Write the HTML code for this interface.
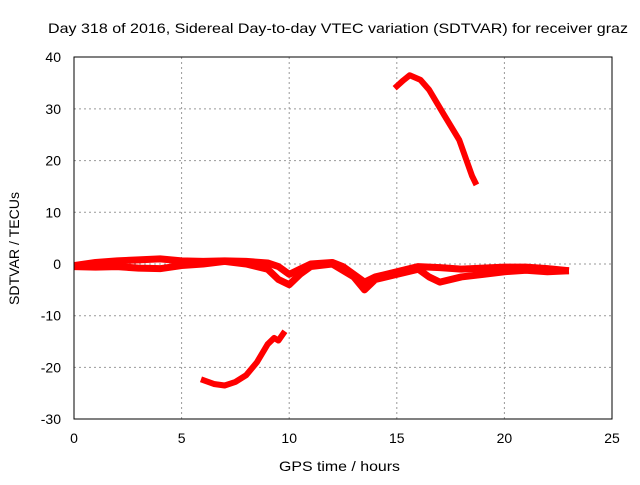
<!DOCTYPE html>
<html><head><meta charset="utf-8"><style>
body{margin:0;background:#fff}
svg text{font-family:"Liberation Sans",sans-serif;font-size:14px;fill:#000}
</style></head><body>
<svg id="c" width="640" height="480">
<text x="48" y="33" textLength="580" lengthAdjust="spacingAndGlyphs">Day 318 of 2016, Sidereal Day-to-day VTEC variation (SDTVAR) for receiver graz</text>
<text x="279" y="471" textLength="121" lengthAdjust="spacingAndGlyphs">GPS time / hours</text>
<text transform="translate(19,305) rotate(-90)" textLength="113" lengthAdjust="spacingAndGlyphs">SDTVAR / TECUs</text>
<g id="grid"></g><g id="ticks"></g><g id="series"></g>
<rect x="74" y="57" width="538" height="362" fill="none" stroke="#000" stroke-width="1"/>
</svg>
<script>
const xTicks=[0,5,10,15,20,25];
const yTicks=[40,30,20,10,0,-10,-20,-30];
const upperT=[0,1,2,3,4,5,6,7,8,9,9.5,10,10.5,11,12,12.5,13,13.5,14,15,16,17,18,19,20,21,22,23];
const upperV=[-0.3,0.3,0.6,0.8,1.0,0.6,0.5,0.6,0.5,0.2,-0.5,-2,-1,0,0.3,-0.5,-2,-3.5,-2.5,-1.5,-0.5,-0.7,-1,-0.8,-0.6,-0.6,-0.9,-1.3];
const lowerT=[0,1,2,3,4,5,6,7,8,9,9.5,10,10.5,11,12,13,13.5,14,15,16,16.5,17,18,19,20,21,22,23];
const lowerV=[-0.5,-0.6,-0.5,-0.8,-0.9,-0.3,0,0.5,0,-1,-3,-4,-2,-0.5,0,-2.5,-5,-3,-2,-1,-2.5,-3.5,-2.5,-2,-1.5,-1.2,-1.5,-1.3];
const arc1T=[5.9,6.5,7,7.5,8,8.5,9,9.3,9.5,9.8];
const arc1V=[-22.3,-23.2,-23.5,-22.8,-21.5,-19,-15.5,-14.3,-14.8,-13];
const arc2T=[14.9,15.3,15.6,16.1,16.5,17.2,17.9,18.5,18.7];
const arc2V=[34,35.5,36.5,35.6,33.7,28.8,24,17,15.3];
const NS='http://www.w3.org/2000/svg';
const X=h=>74+h*538/25, Y=v=>264-v*362/70;
const g=document.getElementById('grid'),t=document.getElementById('ticks'),s=document.getElementById('series');
function mk(tag,a){const e=document.createElementNS(NS,tag);for(const k in a)e.setAttribute(k,a[k]);return e;}
xTicks.forEach(v=>{
 if(v>0&&v<25){const l=mk('line',{x1:X(v),x2:X(v),y1:57,y2:419,stroke:'#999','stroke-dasharray':'2,3'});
 
 g.appendChild(l);}
 const tx=mk('text',{x:X(v),y:443,'text-anchor':'middle'});tx.textContent=v;
 
 t.appendChild(tx);
});
yTicks.forEach(v=>{
 if(v<40&&v>-30){const l=mk('line',{x1:74,x2:612,y1:Y(v),y2:Y(v),stroke:'#999','stroke-dasharray':'2,3'});
 
 g.appendChild(l);}
 const tx=mk('text',{x:61,y:Y(v)+5,'text-anchor':'end'});tx.textContent=v;
 
 t.appendChild(tx);
});
function line(T,V,name,w){
 const p=mk('polyline',{points:T.map((h,i)=>X(h)+','+Y(V[i])).join(' '),fill:'none',stroke:'#f00','stroke-width':w,'stroke-linejoin':'round'});
 
 s.appendChild(p);
}
line(upperT,upperV,'series-upper-trace',7);
line(lowerT,lowerV,'series-lower-trace',7);
line(arc1T,arc1V,'series-arc-low',6);
line(arc2T,arc2V,'series-arc-high',6);
</script>
</body></html>
